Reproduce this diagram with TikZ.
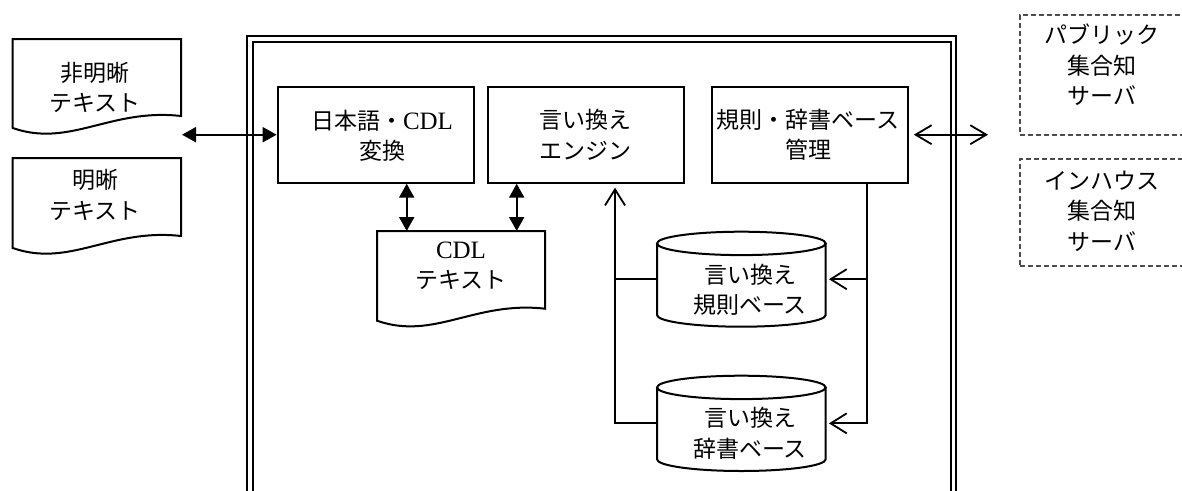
\documentclass[tikz,border=0pt]{standalone}
\usepackage{fontspec}
\newfontfamily\jp{Noto Sans CJK JP}
\newfontfamily\lat{Liberation Serif}
\usetikzlibrary{arrows.meta,calc}
\newcommand\mydocshape[4]{%
  \draw[docline] (#1,#2) -- (#3,#2) -- (#3,{#4-12})
    .. controls ({#1+0.58*(#3-#1)},{#4-20}) and ({#1+0.34*(#3-#1)},{#4+20}) .. (#1,#4) -- cycle;}
\newcommand\mycyl[4]{%
  \draw[docline] (#1,{#2+11.7}) -- (#1,{#4-11.7})
    arc[start angle=180,end angle=360,x radius=84.35pt,y radius=11.7pt] -- (#3,{#2+11.7});
  \draw[docline] ({(#1+#3)/2},{#2+11.7}) ellipse[x radius=84.35pt,y radius=11.7pt];}
\newcommand\cdlword{{\lat\fontsize{25}{30}\selectfont CDL}}
\begin{document}
\begin{tikzpicture}[x=1pt,y=-1pt,
  docline/.style={line width=2pt, line join=miter},
  box/.style={draw, line width=2pt, minimum width=196.3pt, minimum height=96pt, inner sep=0pt},
  txt/.style={align=center, font=\jp\fontsize{23}{30.5}\selectfont, inner sep=0pt},
  area/.style={inner sep=0pt, outer sep=0pt},
  dbox/.style={draw=black!70, line width=1.2pt, dash pattern=on 5pt off 3pt, minimum width=164pt, inner sep=0pt},
  dbl/.style={line width=2pt, {Triangle[length=14pt,width=15pt]}-{Triangle[length=14pt,width=15pt]}},
  conn/.style={line width=1.8pt},
  opn/.style={line width=1.8pt, -{Straight Barb[length=16pt,width=20pt]}},
  opn2/.style={line width=1.8pt, {Straight Barb[length=16pt,width=19pt]}-{Straight Barb[length=16pt,width=19pt]}}]
\clip (0,0) rectangle (1182,490);
\fill[white] (0,0) rectangle (1182,490);
% outer frame
\draw[line width=2pt, double, double distance=3.5pt] (249.75,500) -- (249.75,39) -- (953.3,39) -- (953.3,500);
% left documents
\mydocshape{12.7}{39}{181}{128}
\node[txt] (nonclear) at (95,87.5) {非明晰\\テキスト};
\mydocshape{12.7}{158}{181}{248}
\node[txt] (clear) at (95,195) {明晰\\テキスト};
% boxes
\node[box] (conv) at (375.8,134.7) {};
\node[txt] (convtxt) at (382,136) {日本語・\cdlword\\変換};
\node[box, txt] (engine) at (585.8,134.7) {言い換え\\エンジン};
\node[box] (mgmt) at (809.7,134.7) {};
\node[txt] (mgmttxt) at (808,134.5) {規則・辞書ベース\\管理};
% CDL document
\node[area, minimum width=168pt, minimum height=89.7pt] (cdl) at (461,275.85) {};
\mydocshape{377}{231}{545}{320.7}
\node[txt] (cdltxt) at (461,266) {\cdlword\\テキスト};
% cylinders
\node[area, minimum width=168.7pt, minimum height=95pt] (rule) at (741.35,279.2) {};
\mycyl{657}{231.7}{825.7}{326.7}
\node[txt] (ruletxt) at (750,290) {言い換え\\規則ベース};
\node[area, minimum width=168.7pt, minimum height=95.3pt] (dict) at (741.35,423.35) {};
\mycyl{657}{375.7}{825.7}{471}
\node[txt] (dicttxt) at (750,433.3) {言い換え\\辞書ベース};
% dashed server boxes
\node[dbox, minimum height=120pt] (pubbox) at (1102,75) {};
\node[txt] (pub) at (1102,65) {パブリック\\集合知\\サーバ};
\node[dbox, minimum height=107pt] (inhbox) at (1102,212.5) {};
\node[txt] (inh) at (1102,211) {インハウス\\集合知\\サーバ};
% connectors
\coordinate (lend) at (182,134.7);
\draw[dbl] (lend) -- (conv.west);
\coordinate (a1) at (406.7,0);
\coordinate (a2) at (516.7,0);
\draw[dbl] (a1 |- conv.south) -- (a1 |- cdl.north);
\draw[dbl] (a2 |- engine.south) -- (a2 |- cdl.north);
\coordinate (ex) at (615,0);
\draw[opn, shorten >=4pt] (dict.west) -| (ex |- engine.south);
\draw[conn] (rule.west) -- (rule.west -| ex);
\coordinate (mx) at (867.3,0);
\draw[opn, shorten >=3.3pt] (mx |- mgmt.south) |- (dict.east);
\draw[opn, shorten >=3.3pt] (rule.east -| mx) -- (rule.east);
\coordinate (rend) at (988,134.7);
\draw[opn2, shorten <=5pt] (mgmt.east) -- (rend);
\end{tikzpicture}
\end{document}
